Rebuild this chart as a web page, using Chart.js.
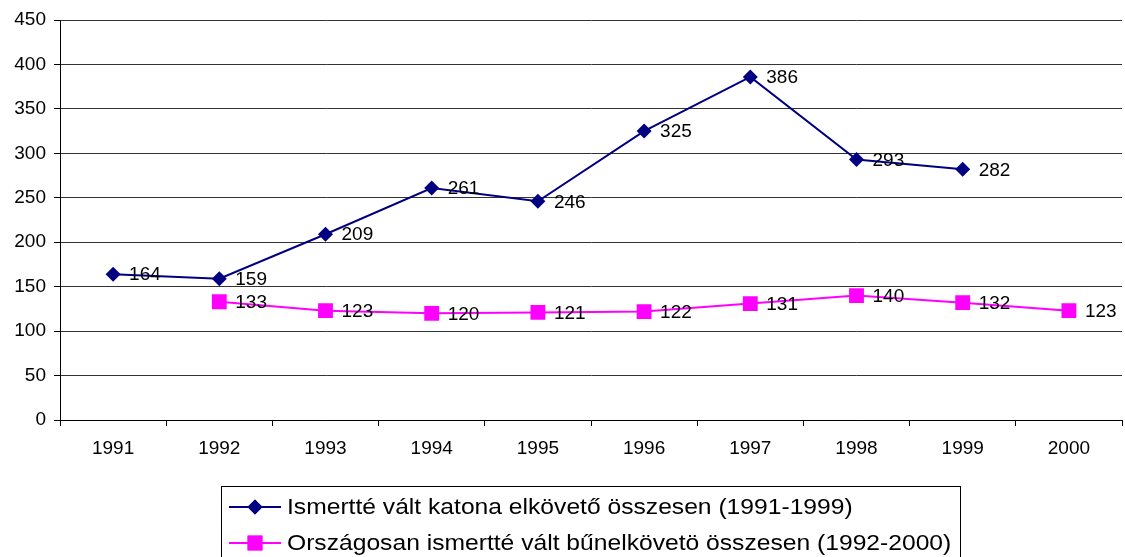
<!DOCTYPE html>
<html lang="hu">
<head>
    <meta charset="UTF-8">
    <title>Ismertté vált elkövetők</title>
    <script src="https://cdn.jsdelivr.net/npm/chart.js"></script>
    <style>
        html, body { margin: 0; padding: 0; background: #fff; overflow: hidden; }
        #wrap { width: 1125px; height: 557px; position: relative; }
        canvas { display: block; }
    </style>
</head>
<body>
    <div id="wrap">
        <canvas id="lineChart" width="1125" height="557"></canvas>
    </div>

    <script>
        // data
        const years = ['1991', '1992', '1993', '1994', '1995', '1996', '1997', '1998', '1999', '2000'];
        const katonaValues = [164, 159, 209, 261, 246, 325, 386, 293, 282, null];
        const orszagosValues = [null, 133, 123, 120, 121, 122, 131, 140, 132, 123];
        const seriesNames = [
            'Ismertté vált katona elkövető összesen (1991-1999)',
            'Országosan ismertté vált bűnelkövetö összesen (1992-2000)'
        ];

        const FONT = "'Liberation Sans', Arial, sans-serif";

        // numbers next to each point
        const valueLabels = {
            id: 'valueLabels',
            afterDatasetsDraw(chart) {
                const ctx = chart.ctx;
                ctx.save();
                ctx.font = '19px ' + FONT;
                ctx.fillStyle = '#000';
                ctx.textAlign = 'left';
                ctx.textBaseline = 'middle';
                chart.data.datasets.forEach((ds, i) => {
                    const meta = chart.getDatasetMeta(i);
                    meta.data.forEach((pt, j) => {
                        const v = ds.data[j];
                        if (v === null || v === undefined) return;
                        ctx.fillText(String(v), pt.x + 16, pt.y + 1);
                    });
                });
                ctx.restore();
            }
        };

        // boxed legend under the plot, excel style
        const boxLegend = {
            id: 'boxLegend',
            afterDraw(chart) {
                const ctx = chart.ctx;
                const left = 221.5, top = 486.5, width = 739;
                const rows = [507, 543];
                ctx.save();
                ctx.strokeStyle = '#000';
                ctx.lineWidth = 1;
                ctx.strokeRect(left, top, width, 100);
                chart.data.datasets.forEach((ds, i) => {
                    const y = rows[i];
                    ctx.strokeStyle = ds.borderColor;
                    ctx.lineWidth = 2;
                    ctx.beginPath();
                    ctx.moveTo(229, y);
                    ctx.lineTo(281, y);
                    ctx.stroke();
                    ctx.fillStyle = ds.borderColor;
                    Chart.helpers.drawPoint(ctx, { pointStyle: ds.pointStyle, radius: ds.pointRadius, borderWidth: 0 }, 255, y);
                    ctx.fill();
                    // text in the original is a bit stretched sideways
                    ctx.save();
                    ctx.translate(287, y + 1);
                    ctx.scale(1.12, 1);
                    ctx.fillStyle = '#000';
                    ctx.font = '22px ' + FONT;
                    ctx.textAlign = 'left';
                    ctx.textBaseline = 'middle';
                    ctx.fillText(ds.label, 0, 0);
                    ctx.restore();
                });
                ctx.restore();
            }
        };

        const ctx = document.getElementById('lineChart').getContext('2d');
        new Chart(ctx, {
            type: 'line',
            data: {
                labels: years,
                datasets: [{
                    label: seriesNames[0],
                    data: katonaValues,
                    borderColor: '#000080',
                    backgroundColor: '#000080',
                    borderWidth: 2,
                    pointStyle: 'rectRot',
                    pointRadius: 7.5,
                    pointBorderWidth: 0,
                    tension: 0
                }, {
                    label: seriesNames[1],
                    data: orszagosValues,
                    borderColor: '#FF00FF',
                    backgroundColor: '#FF00FF',
                    borderWidth: 2,
                    pointStyle: 'rect',
                    pointRadius: 10.5,
                    pointBorderWidth: 0,
                    tension: 0
                }]
            },
            plugins: [valueLabels, boxLegend],
            options: {
                responsive: false,
                animation: false,
                layout: {
                    autoPadding: false,
                    padding: { top: 20, right: 3, left: 0, bottom: 0 }
                },
                plugins: {
                    legend: { display: false },
                    tooltip: { enabled: false }
                },
                scales: {
                    x: {
                        offset: true,
                        grid: {
                            offset: true,
                            drawOnChartArea: false,
                            tickLength: 6,
                            color: '#000'
                        },
                        border: { color: '#000', width: 1 },
                        ticks: {
                            color: '#000',
                            padding: 11,
                            maxRotation: 0,
                            font: { family: FONT, size: 19 }
                        },
                        afterFit(scale) {
                            scale.height = 137;
                            scale.paddingLeft = 0;
                            scale.paddingRight = 0;
                        }
                    },
                    y: {
                        min: 0,
                        max: 450,
                        ticks: {
                            stepSize: 50,
                            color: '#000',
                            padding: 8,
                            font: { family: FONT, size: 19 }
                        },
                        grid: {
                            color: '#333',
                            tickLength: 6,
                            tickColor: '#000'
                        },
                        border: { color: '#000', width: 1 },
                        afterFit(scale) { scale.width = 60; }
                    }
                }
            }
        });
    </script>
</body>
</html>
